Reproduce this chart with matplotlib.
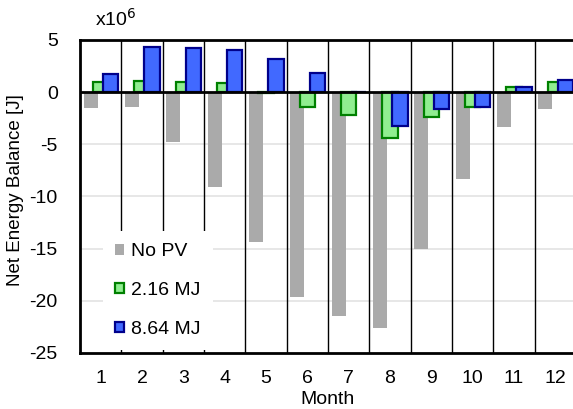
import matplotlib
matplotlib.use("Agg")
import matplotlib.pyplot as plt
import numpy as np

plt.rcParams['font.family'] = ['Liberation Sans', 'DejaVu Sans']

months = [1, 2, 3, 4, 5, 6, 7, 8, 9, 10, 11, 12]
no_pv = [-1.55, -1.45, -4.8, -9.1, -14.35, -19.6, -21.5, -22.6, -15.05, -8.35, -3.3, -1.6]
pv_216 = [1.0, 1.1, 1.0, 0.85, -0.1, -1.4, -2.15, -4.4, -2.35, -1.45, 0.46, 0.94]
pv_864 = [1.74, 4.35, 4.2, 4.0, 3.2, 1.8, 0.05, -3.2, -1.65, -1.45, 0.53, 1.2]
labels = ["No PV", "2.16 MJ", "8.64 MJ"]
yticks = [5, 0, -5, -10, -15, -20, -25]

fig = plt.figure(figsize=(5.73, 4.09), dpi=100)
ax = fig.add_axes([80/573, 56/409, 496/573, 313/409])

x = np.array(months, dtype=float)
off = 0.24
ax.bar(x - off, no_pv, width=0.34, color='#aaaaaa', edgecolor='none', zorder=3, label=labels[0])
ax.bar(x, pv_216, width=0.37, color='#90ee90', edgecolor='#008000', linewidth=1.6, zorder=3, label=labels[1])
ax.bar(x + off, pv_864, width=0.37, color='#4169ff', edgecolor='#00008b', linewidth=1.6, zorder=3, label=labels[2])

for b in np.arange(1.5, 12.5, 1.0):
    ax.axvline(b, color='black', linewidth=1.0, zorder=2)
for yv in [-5, -10, -15, -20]:
    ax.axhline(yv, color='#e3e3e3', linewidth=1.2, zorder=1)
ax.axhline(0, color='black', linewidth=2.0, zorder=4)

fs = 14
ax.set_xlim(0.5, 12.5)
ax.set_ylim(-25, 5)
ax.set_yticks(yticks)
ax.set_yticklabels([str(v) for v in yticks])
ax.set_xticks(months)
ax.set_xticklabels([str(m) for m in months])
ax.tick_params(axis='both', length=0, labelsize=fs, colors='black')
ax.tick_params(axis='y', pad=16)
ax.tick_params(axis='x', pad=12)
for s in ['left', 'bottom', 'top']:
    ax.spines[s].set_linewidth(2.0)
    ax.spines[s].set_color('black')
ax.spines['right'].set_visible(False)

ax.set_xlabel('Month', fontsize=fs, labelpad=3)
ax.set_ylabel('Net Energy Balance [J]', fontsize=13.5)
ax.yaxis.set_label_coords(-56/496, 0.52)

fig.text(95/573, 1 - 19/409, r'x10$^{6}$', fontsize=fs, va='center', ha='left')

leg = ax.legend(loc='lower left', bbox_to_anchor=(0.046, 0.008), borderaxespad=0,
                handlelength=0.45, handleheight=0.45, handletextpad=0.35,
                labelspacing=1.12, fontsize=fs, frameon=True, fancybox=False,
                borderpad=0.65)
leg.get_frame().set_facecolor('white')
leg.get_frame().set_edgecolor('none')
leg.get_frame().set_alpha(1.0)
leg.set_zorder(5)

fig.savefig('out.png', dpi=100)
